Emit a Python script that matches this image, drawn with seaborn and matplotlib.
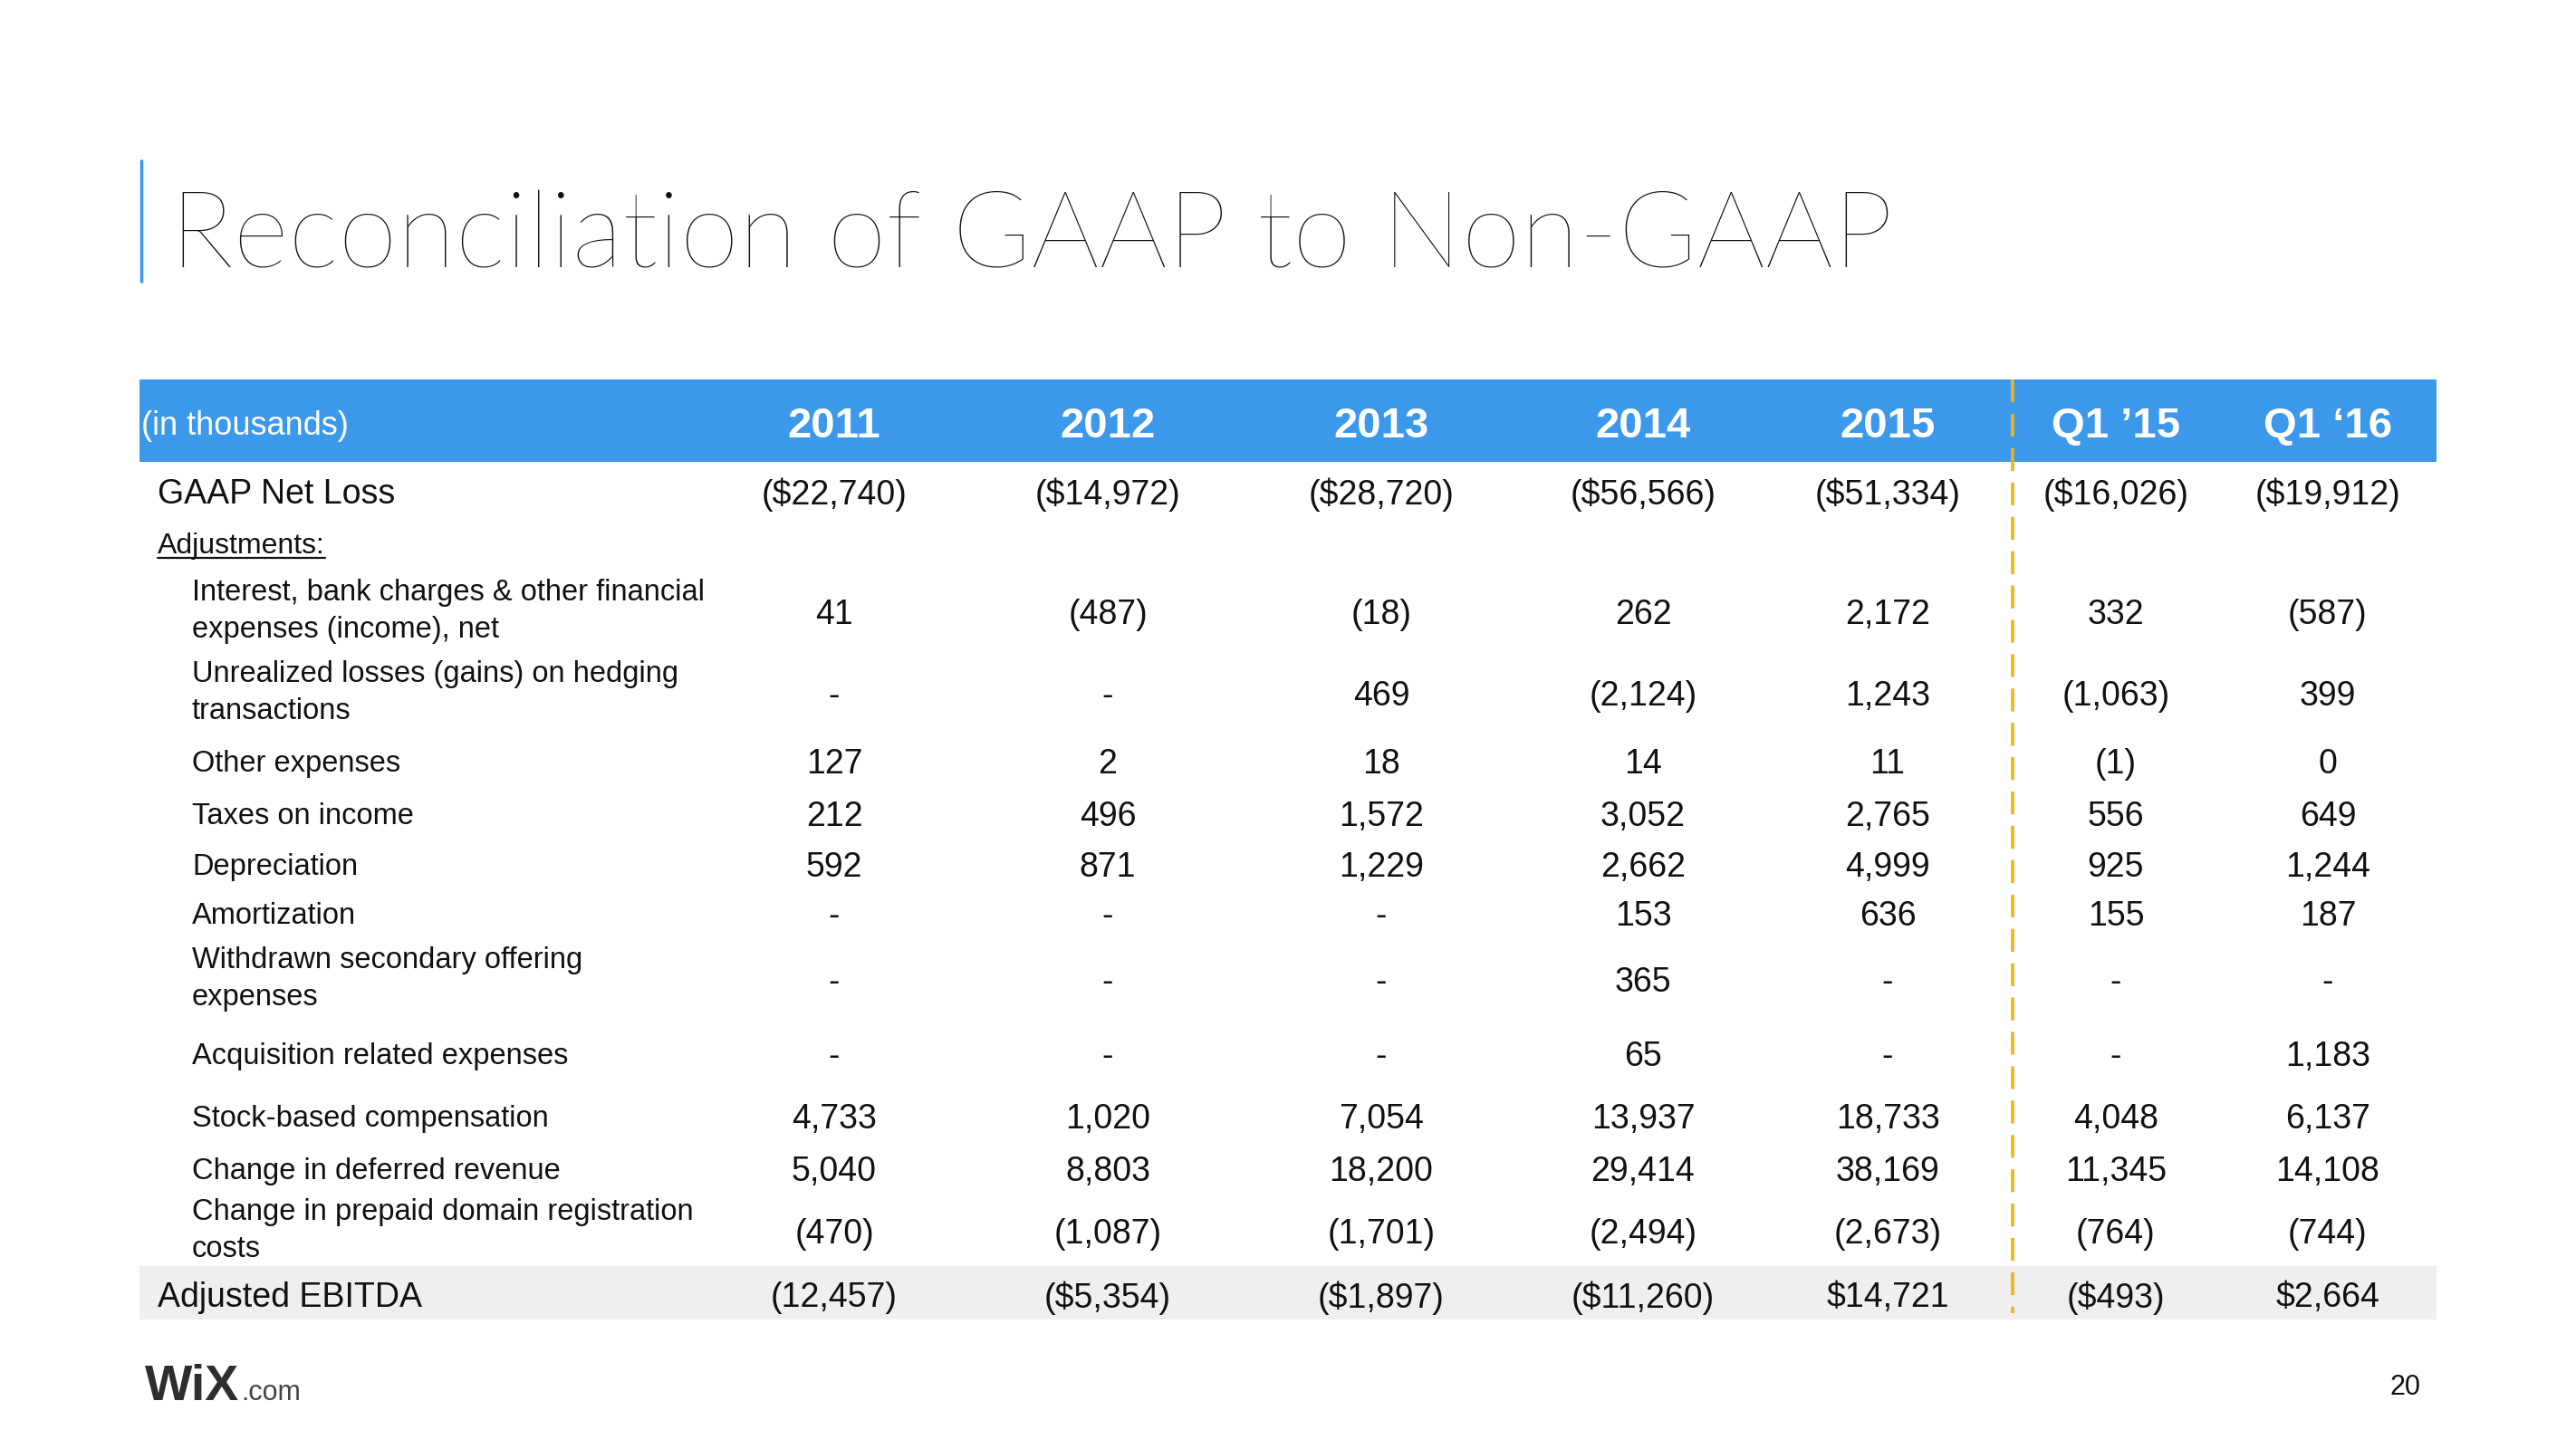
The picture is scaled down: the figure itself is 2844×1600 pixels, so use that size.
import numpy as np
import pandas as pd
import seaborn as sns
import matplotlib.pyplot as plt

sns.set_theme(style="white")
plt.rcParams['font.family'] = ['Liberation Sans', 'DejaVu Sans']

title = "Reconciliation of GAAP to Non-GAAP"
unit_label = "(in thousands)"
periods = ["2011", "2012", "2013", "2014", "2015", "Q1 ’15", "Q1 ‘16"]

row_labels = [
    "GAAP Net Loss",
    "Adjustments:",
    "Interest, bank charges & other financial\nexpenses (income), net",
    "Unrealized losses (gains) on hedging\ntransactions",
    "Other expenses",
    "Taxes on income",
    "Depreciation",
    "Amortization",
    "Withdrawn secondary offering\nexpenses",
    "Acquisition related expenses",
    "Stock-based compensation",
    "Change in deferred revenue",
    "Change in prepaid domain registration\ncosts",
    "Adjusted EBITDA",
]

gaap_net_loss = ["($22,740)", "($14,972)", "($28,720)", "($56,566)", "($51,334)", "($16,026)", "($19,912)"]
adjustments = [""] * 7
interest = ["41", "(487)", "(18)", "262", "2,172", "332", "(587)"]
hedging = ["-", "-", "469", "(2,124)", "1,243", "(1,063)", "399"]
other_expenses = ["127", "2", "18", "14", "11", "(1)", "0"]
taxes = ["212", "496", "1,572", "3,052", "2,765", "556", "649"]
depreciation = ["592", "871", "1,229", "2,662", "4,999", "925", "1,244"]
amortization = ["-", "-", "-", "153", "636", "155", "187"]
withdrawn_offering = ["-", "-", "-", "365", "-", "-", "-"]
acquisition = ["-", "-", "-", "65", "-", "-", "1,183"]
stock_comp = ["4,733", "1,020", "7,054", "13,937", "18,733", "4,048", "6,137"]
deferred_revenue = ["5,040", "8,803", "18,200", "29,414", "38,169", "11,345", "14,108"]
prepaid_domain = ["(470)", "(1,087)", "(1,701)", "(2,494)", "(2,673)", "(764)", "(744)"]
adjusted_ebitda = ["(12,457)", "($5,354)", "($1,897)", "($11,260)", "$14,721", "($493)", "$2,664"]

table = pd.DataFrame(
    [gaap_net_loss, adjustments, interest, hedging, other_expenses, taxes,
     depreciation, amortization, withdrawn_offering, acquisition, stock_comp,
     deferred_revenue, prepaid_domain, adjusted_ebitda],
    index=row_labels, columns=periods)

# layout (pixel space of the 2844x1600 slide)
col_x = [921, 1223, 1525, 1814, 2084, 2336, 2570]
row_y = [542, 599, 675, 765, 840, 898, 954, 1008, 1081, 1163, 1232, 1290, 1359, 1429]
main_rows = {0, 13}
blue = "#3b98ea"
ink = "#111111"
light = ["Lato", "Liberation Sans", "DejaVu Sans"]

fig = plt.figure(figsize=(28.44, 16), dpi=100)
ax = fig.add_axes([0, 0, 1, 1])
ax.set_xlim(0, 2844)
ax.set_ylim(1600, 0)
ax.axis("off")

# title with accent bar
ax.plot([156, 156], [176, 312], color=blue, lw=2.5, solid_capstyle="butt")
ax.text(188, 296, title, fontsize=85, color=ink, va="baseline", ha="left",
        family=light, fontweight="light")

# header band and total band
ax.fill_between([154, 2690], 419, 510, color=blue, lw=0)
ax.fill_between([154, 2690], 1398, 1457, color="#efefef", lw=0)
ax.text(156, 466, unit_label, fontsize=26, color="white", va="center_baseline", ha="left")
for x, p in zip(col_x, periods):
    ax.text(x, 466, p, fontsize=34, color="white", fontweight="bold",
            va="center_baseline", ha="center")

# separator between annual and quarterly columns
ax.plot([2222, 2222], [419, 1450], color="#f2b21c", lw=2.6, dashes=(7, 3.5))

renderer = fig.canvas.get_renderer()
for i, (label, y) in enumerate(zip(table.index, row_y)):
    if i in main_rows:
        ax.text(174, y, label, fontsize=27, color=ink, va="center_baseline", ha="left")
    elif i == 1:
        t = ax.text(174, y, label, fontsize=23, color=ink, va="center_baseline", ha="left")
        bb = t.get_window_extent(renderer).transformed(ax.transData.inverted())
        ax.plot([bb.x0, bb.x1], [y + 17, y + 17], color=ink, lw=1.6)
    elif "\n" in label:
        ax.text(212, y, label, fontsize=23.5, color=ink, va="center", ha="left",
                linespacing=1.45)
    else:
        ax.text(212, y, label, fontsize=23.5, color=ink, va="center_baseline", ha="left")
    for x, v in zip(col_x, table.iloc[i]):
        ax.text(x, y, v, fontsize=27, color=ink, va="center_baseline", ha="center")

# footer
w = ax.text(160, 1546, "WiX", fontsize=40, color="#2e2e2e", fontweight="bold",
            va="baseline", ha="left")
wb = w.get_window_extent(renderer).transformed(ax.transData.inverted())
ax.text(wb.x1 + 2, 1546, ".com", fontsize=22, color="#444444", va="baseline", ha="left")
ax.text(2672, 1540, "20", fontsize=22, color=ink, va="baseline", ha="right")

fig.savefig("out.png", dpi=100, facecolor="white")
